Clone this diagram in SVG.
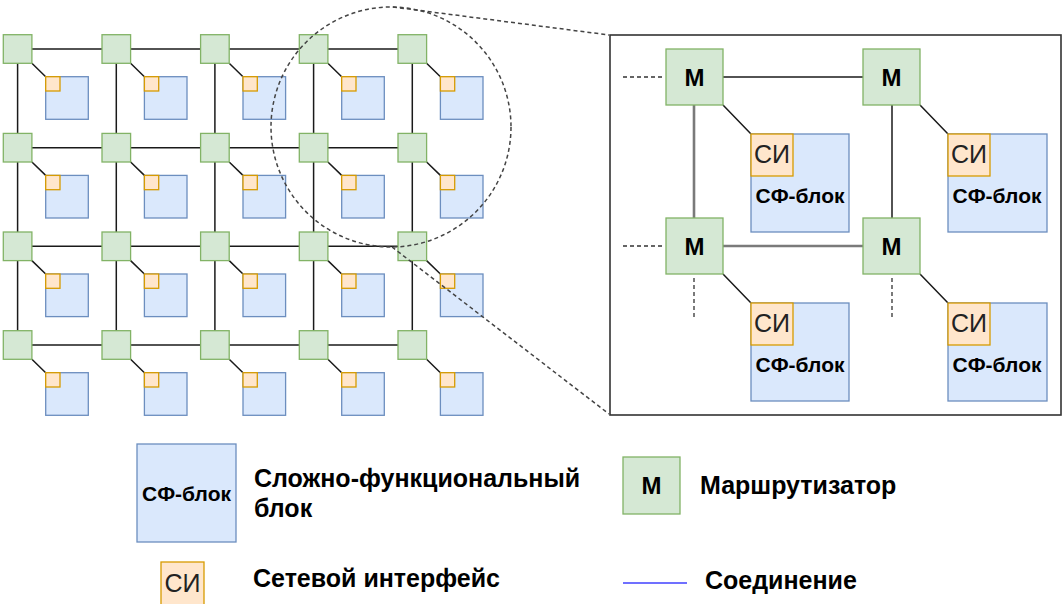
<svg xmlns="http://www.w3.org/2000/svg" width="1064" height="604" viewBox="0 0 1064 604">
  <style>
    .rt { fill: #d5e8d4; stroke: #82b366; stroke-width: 1.3; }
    .sf { fill: #dae8fc; stroke: #6c8ebf; stroke-width: 1.3; }
    .si { fill: #ffe6cc; stroke: #d79b00; stroke-width: 1.3; }
    .ln { stroke: #1a1a1a; stroke-width: 1.5; fill: none; }
    .lg { stroke: #7a7a7a; stroke-width: 2.6; fill: none; }
    .dl { stroke: #333; stroke-width: 1.3; stroke-dasharray: 4 3; fill: none; }
    .co { stroke: #444; stroke-width: 1.5; stroke-dasharray: 4 3; fill: none; }
    text { font-family: "Liberation Sans", Arial, sans-serif; fill: #000; }
    .m { font-size: 24px; font-weight: bold; text-anchor: middle; }
    .sit { font-size: 25px; fill: #222; text-anchor: middle; }
    .sft { font-size: 21px; font-weight: bold; text-anchor: middle; }
    .lt { font-size: 25px; font-weight: bold; }
  </style>

  <!-- mesh connectors -->
  <g id="connectors">
    <line class="ln" x1="17.6" y1="49" x2="412.3" y2="49"/>
    <line class="ln" x1="17.6" y1="147.7" x2="412.3" y2="147.7"/>
    <line class="ln" x1="17.6" y1="246.3" x2="412.3" y2="246.3"/>
    <line class="ln" x1="17.6" y1="345" x2="412.3" y2="345"/>
    <line class="ln" x1="17.6" y1="49" x2="17.6" y2="345"/>
    <line class="ln" x1="116.3" y1="49" x2="116.3" y2="345"/>
    <line class="ln" x1="214.9" y1="49" x2="214.9" y2="345"/>
    <line class="ln" x1="313.6" y1="49" x2="313.6" y2="345"/>
    <line class="ln" x1="412.3" y1="49" x2="412.3" y2="345"/>
    <!-- router to network interface links -->
    <path class="ln" d="M31.9 63.3L45.7 76.7M130.6 63.3L144.4 76.7M229.2 63.3L243 76.7M327.9 63.3L341.7 76.7M426.6 63.3L440.4 76.7"/>
    <path class="ln" d="M31.9 162L45.7 175.4M130.6 162L144.4 175.4M229.2 162L243 175.4M327.9 162L341.7 175.4M426.6 162L440.4 175.4"/>
    <path class="ln" d="M31.9 260.6L45.7 274M130.6 260.6L144.4 274M229.2 260.6L243 274M327.9 260.6L341.7 274M426.6 260.6L440.4 274"/>
    <path class="ln" d="M31.9 359.3L45.7 372.7M130.6 359.3L144.4 372.7M229.2 359.3L243 372.7M327.9 359.3L341.7 372.7M426.6 359.3L440.4 372.7"/>
    <!-- enlarged view links -->
    <line class="ln" x1="723" y1="77" x2="863" y2="77"/>
    <line class="lg" x1="694" y1="105" x2="694" y2="218"/>
    <line class="ln" x1="892" y1="105" x2="892" y2="218"/>
    <line class="lg" x1="723" y1="246" x2="863" y2="246"/>
    <path class="ln" d="M723 105L751 134M920 105L948 134M723 274L751 303M920 274L948 303"/>
    <path class="dl" d="M623 77H664M623 246H664M694 278V318M892 278V318"/>
  </g>

  <!-- mesh routers -->
  <g id="r00"><rect class="rt" x="3.3" y="34.7" width="28.6" height="28.6"/></g>
  <g id="r01"><rect class="rt" x="102" y="34.7" width="28.6" height="28.6"/></g>
  <g id="r02"><rect class="rt" x="200.6" y="34.7" width="28.6" height="28.6"/></g>
  <g id="r03"><rect class="rt" x="299.3" y="34.7" width="28.6" height="28.6"/></g>
  <g id="r04"><rect class="rt" x="398" y="34.7" width="28.6" height="28.6"/></g>
  <g id="r10"><rect class="rt" x="3.3" y="133.4" width="28.6" height="28.6"/></g>
  <g id="r11"><rect class="rt" x="102" y="133.4" width="28.6" height="28.6"/></g>
  <g id="r12"><rect class="rt" x="200.6" y="133.4" width="28.6" height="28.6"/></g>
  <g id="r13"><rect class="rt" x="299.3" y="133.4" width="28.6" height="28.6"/></g>
  <g id="r14"><rect class="rt" x="398" y="133.4" width="28.6" height="28.6"/></g>
  <g id="r20"><rect class="rt" x="3.3" y="232" width="28.6" height="28.6"/></g>
  <g id="r21"><rect class="rt" x="102" y="232" width="28.6" height="28.6"/></g>
  <g id="r22"><rect class="rt" x="200.6" y="232" width="28.6" height="28.6"/></g>
  <g id="r23"><rect class="rt" x="299.3" y="232" width="28.6" height="28.6"/></g>
  <g id="r24"><rect class="rt" x="398" y="232" width="28.6" height="28.6"/></g>
  <g id="r30"><rect class="rt" x="3.3" y="330.7" width="28.6" height="28.6"/></g>
  <g id="r31"><rect class="rt" x="102" y="330.7" width="28.6" height="28.6"/></g>
  <g id="r32"><rect class="rt" x="200.6" y="330.7" width="28.6" height="28.6"/></g>
  <g id="r33"><rect class="rt" x="299.3" y="330.7" width="28.6" height="28.6"/></g>
  <g id="r34"><rect class="rt" x="398" y="330.7" width="28.6" height="28.6"/></g>

  <!-- mesh IP blocks with network interfaces -->
  <g id="b00"><rect class="sf" x="45.7" y="76.7" width="42.6" height="42.6"/><rect class="si" x="45.7" y="76.7" width="14.3" height="14.3"/></g>
  <g id="b01"><rect class="sf" x="144.4" y="76.7" width="42.6" height="42.6"/><rect class="si" x="144.4" y="76.7" width="14.3" height="14.3"/></g>
  <g id="b02"><rect class="sf" x="243" y="76.7" width="42.6" height="42.6"/><rect class="si" x="243" y="76.7" width="14.3" height="14.3"/></g>
  <g id="b03"><rect class="sf" x="341.7" y="76.7" width="42.6" height="42.6"/><rect class="si" x="341.7" y="76.7" width="14.3" height="14.3"/></g>
  <g id="b04"><rect class="sf" x="440.4" y="76.7" width="42.6" height="42.6"/><rect class="si" x="440.4" y="76.7" width="14.3" height="14.3"/></g>
  <g id="b10"><rect class="sf" x="45.7" y="175.4" width="42.6" height="42.6"/><rect class="si" x="45.7" y="175.4" width="14.3" height="14.3"/></g>
  <g id="b11"><rect class="sf" x="144.4" y="175.4" width="42.6" height="42.6"/><rect class="si" x="144.4" y="175.4" width="14.3" height="14.3"/></g>
  <g id="b12"><rect class="sf" x="243" y="175.4" width="42.6" height="42.6"/><rect class="si" x="243" y="175.4" width="14.3" height="14.3"/></g>
  <g id="b13"><rect class="sf" x="341.7" y="175.4" width="42.6" height="42.6"/><rect class="si" x="341.7" y="175.4" width="14.3" height="14.3"/></g>
  <g id="b14"><rect class="sf" x="440.4" y="175.4" width="42.6" height="42.6"/><rect class="si" x="440.4" y="175.4" width="14.3" height="14.3"/></g>
  <g id="b20"><rect class="sf" x="45.7" y="274" width="42.6" height="42.6"/><rect class="si" x="45.7" y="274" width="14.3" height="14.3"/></g>
  <g id="b21"><rect class="sf" x="144.4" y="274" width="42.6" height="42.6"/><rect class="si" x="144.4" y="274" width="14.3" height="14.3"/></g>
  <g id="b22"><rect class="sf" x="243" y="274" width="42.6" height="42.6"/><rect class="si" x="243" y="274" width="14.3" height="14.3"/></g>
  <g id="b23"><rect class="sf" x="341.7" y="274" width="42.6" height="42.6"/><rect class="si" x="341.7" y="274" width="14.3" height="14.3"/></g>
  <g id="b24"><rect class="sf" x="440.4" y="274" width="42.6" height="42.6"/><rect class="si" x="440.4" y="274" width="14.3" height="14.3"/></g>
  <g id="b30"><rect class="sf" x="45.7" y="372.7" width="42.6" height="42.6"/><rect class="si" x="45.7" y="372.7" width="14.3" height="14.3"/></g>
  <g id="b31"><rect class="sf" x="144.4" y="372.7" width="42.6" height="42.6"/><rect class="si" x="144.4" y="372.7" width="14.3" height="14.3"/></g>
  <g id="b32"><rect class="sf" x="243" y="372.7" width="42.6" height="42.6"/><rect class="si" x="243" y="372.7" width="14.3" height="14.3"/></g>
  <g id="b33"><rect class="sf" x="341.7" y="372.7" width="42.6" height="42.6"/><rect class="si" x="341.7" y="372.7" width="14.3" height="14.3"/></g>
  <g id="b34"><rect class="sf" x="440.4" y="372.7" width="42.6" height="42.6"/><rect class="si" x="440.4" y="372.7" width="14.3" height="14.3"/></g>

  <!-- enlarged view frame -->
  <g id="zoom-frame"><rect x="610" y="35" width="451" height="380" fill="none" stroke="#333" stroke-width="1.6"/></g>

  <!-- enlarged view routers -->
  <g id="zm1"><rect class="rt" x="666" y="49" width="57" height="56"/><text class="m" x="694.5" y="86">М</text></g>
  <g id="zm2"><rect class="rt" x="863" y="49" width="57" height="56"/><text class="m" x="891.5" y="86">М</text></g>
  <g id="zm3"><rect class="rt" x="666" y="218" width="57" height="56"/><text class="m" x="694.5" y="255">М</text></g>
  <g id="zm4"><rect class="rt" x="863" y="218" width="57" height="56"/><text class="m" x="891.5" y="255">М</text></g>

  <!-- enlarged view IP blocks -->
  <g id="zb1"><rect class="sf" x="751" y="134" width="98" height="98"/><rect class="si" x="751" y="134" width="42" height="42"/><text class="sit" x="772" y="163">СИ</text><text class="sft" x="800" y="203">СФ-блок</text></g>
  <g id="zb2"><rect class="sf" x="948" y="134" width="99" height="98"/><rect class="si" x="948" y="134" width="42" height="42"/><text class="sit" x="969" y="163">СИ</text><text class="sft" x="997" y="203">СФ-блок</text></g>
  <g id="zb3"><rect class="sf" x="751" y="303" width="98" height="98"/><rect class="si" x="751" y="303" width="42" height="42"/><text class="sit" x="772" y="332">СИ</text><text class="sft" x="800" y="372">СФ-блок</text></g>
  <g id="zb4"><rect class="sf" x="948" y="303" width="99" height="98"/><rect class="si" x="948" y="303" width="42" height="42"/><text class="sit" x="969" y="332">СИ</text><text class="sft" x="997" y="372">СФ-блок</text></g>

  <!-- magnifier callout -->
  <g id="callout">
    <circle class="co" cx="391" cy="127" r="120"/>
    <line class="co" x1="393" y1="7" x2="609" y2="35"/>
    <line class="co" x1="392" y1="247" x2="609" y2="414"/>
  </g>

  <!-- legend -->
  <g id="legend-sf"><rect class="sf" x="137" y="444" width="99" height="98"/><text class="sft" x="186.5" y="501">СФ-блок</text><text class="lt" x="254" y="487">Сложно-функциональный</text><text class="lt" x="254" y="517">блок</text></g>
  <g id="legend-si"><rect class="si" x="161" y="562" width="43" height="43"/><text class="sit" x="182.5" y="592">СИ</text><text class="lt" x="253" y="587">Сетевой интерфейс</text></g>
  <g id="legend-m"><rect class="rt" x="623" y="457" width="57" height="57"/><text class="m" x="651.5" y="494">М</text><text class="lt" x="700" y="494">Маршрутизатор</text></g>
  <g id="legend-link"><line x1="623" y1="583" x2="687" y2="583" stroke="#4040ff" stroke-width="1.3"/><text class="lt" x="705" y="589">Соединение</text></g>
</svg>
